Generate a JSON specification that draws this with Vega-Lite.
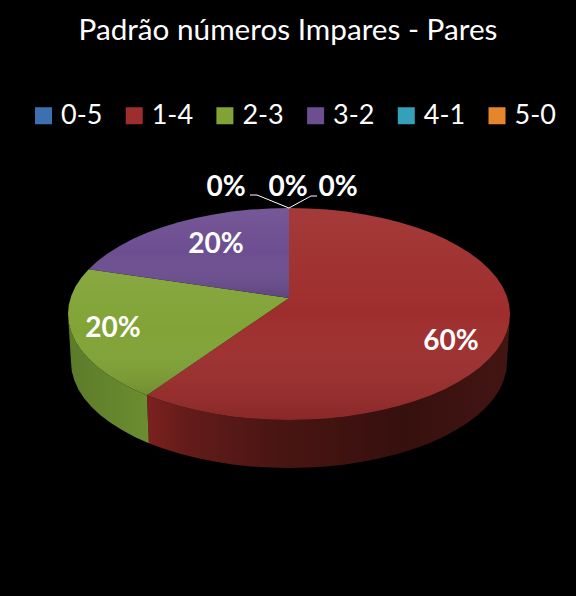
{"$schema":"https://vega.github.io/schema/vega-lite/v6.json","width":576,"height":596,"padding":0,"autosize":{"type":"none"},"background":"#000000","config":{"view":{"stroke":null}},
"title":{"text":"Padrão números Impares - Pares","font":"Lato","fontSize":29.7,"fontWeight":"normal","color":"#ffffff","anchor":"middle","frame":"group","offset":0,"dy":46.5},
"datasets":{
"top":[
{"serie":"1-4","ord":0,"x":289,"y":298},{"serie":"1-4","ord":1,"x":289,"y":208},{"serie":"1-4","ord":2,"x":308.3,"y":208.4},{"serie":"1-4","ord":3,"x":327.4,"y":209.6},{"serie":"1-4","ord":4,"x":346.2,"y":211.6},{"serie":"1-4","ord":5,"x":364.6,"y":214.4},{"serie":"1-4","ord":6,"x":382.4,"y":217.9},{"serie":"1-4","ord":7,"x":399.5,"y":222.2},{"serie":"1-4","ord":8,"x":415.8,"y":227.2},{"serie":"1-4","ord":9,"x":431.1,"y":232.8},{"serie":"1-4","ord":10,"x":445.3,"y":239},{"serie":"1-4","ord":11,"x":458.3,"y":245.9},{"serie":"1-4","ord":12,"x":470,"y":253.2},{"serie":"1-4","ord":13,"x":480.4,"y":261},{"serie":"1-4","ord":14,"x":489.3,"y":269.2},{"serie":"1-4","ord":15,"x":496.7,"y":277.7},{"serie":"1-4","ord":16,"x":502.5,"y":286.6},{"serie":"1-4","ord":17,"x":506.6,"y":295.6},{"serie":"1-4","ord":18,"x":509.2,"y":304.8},{"serie":"1-4","ord":19,"x":510,"y":314},{"serie":"1-4","ord":20,"x":509.2,"y":323.2},{"serie":"1-4","ord":21,"x":506.6,"y":332.4},{"serie":"1-4","ord":22,"x":502.5,"y":341.4},{"serie":"1-4","ord":23,"x":496.7,"y":350.3},{"serie":"1-4","ord":24,"x":489.3,"y":358.8},{"serie":"1-4","ord":25,"x":480.4,"y":367},{"serie":"1-4","ord":26,"x":470,"y":374.8},{"serie":"1-4","ord":27,"x":458.3,"y":382.1},{"serie":"1-4","ord":28,"x":445.3,"y":389},{"serie":"1-4","ord":29,"x":431.1,"y":395.2},{"serie":"1-4","ord":30,"x":415.8,"y":400.8},{"serie":"1-4","ord":31,"x":399.5,"y":405.8},{"serie":"1-4","ord":32,"x":382.4,"y":410.1},{"serie":"1-4","ord":33,"x":364.6,"y":413.6},{"serie":"1-4","ord":34,"x":346.2,"y":416.4},{"serie":"1-4","ord":35,"x":327.4,"y":418.4},{"serie":"1-4","ord":36,"x":308.3,"y":419.6},{"serie":"1-4","ord":37,"x":289,"y":420},{"serie":"1-4","ord":38,"x":269.7,"y":419.6},{"serie":"1-4","ord":39,"x":250.6,"y":418.4},{"serie":"1-4","ord":40,"x":231.8,"y":416.4},{"serie":"1-4","ord":41,"x":213.4,"y":413.6},{"serie":"1-4","ord":42,"x":195.6,"y":410.1},{"serie":"1-4","ord":43,"x":178.5,"y":405.8},{"serie":"1-4","ord":44,"x":162.2,"y":400.8},{"serie":"1-4","ord":45,"x":146.9,"y":395.2},
{"serie":"2-3","ord":0,"x":289,"y":298},{"serie":"2-3","ord":1,"x":146.9,"y":395.2},{"serie":"2-3","ord":2,"x":132.7,"y":389},{"serie":"2-3","ord":3,"x":119.7,"y":382.1},{"serie":"2-3","ord":4,"x":108,"y":374.8},{"serie":"2-3","ord":5,"x":97.6,"y":367},{"serie":"2-3","ord":6,"x":88.7,"y":358.8},{"serie":"2-3","ord":7,"x":81.3,"y":350.3},{"serie":"2-3","ord":8,"x":75.5,"y":341.4},{"serie":"2-3","ord":9,"x":71.4,"y":332.4},{"serie":"2-3","ord":10,"x":68.8,"y":323.2},{"serie":"2-3","ord":11,"x":68,"y":314},{"serie":"2-3","ord":12,"x":68.8,"y":304.8},{"serie":"2-3","ord":13,"x":71.4,"y":295.6},{"serie":"2-3","ord":14,"x":75.5,"y":286.6},{"serie":"2-3","ord":15,"x":81.3,"y":277.7},{"serie":"2-3","ord":16,"x":88.7,"y":269.2},
{"serie":"3-2","ord":0,"x":289,"y":298},{"serie":"3-2","ord":1,"x":88.7,"y":269.2},{"serie":"3-2","ord":2,"x":97.6,"y":261},{"serie":"3-2","ord":3,"x":108,"y":253.2},{"serie":"3-2","ord":4,"x":119.7,"y":245.9},{"serie":"3-2","ord":5,"x":132.7,"y":239},{"serie":"3-2","ord":6,"x":146.9,"y":232.8},{"serie":"3-2","ord":7,"x":162.2,"y":227.2},{"serie":"3-2","ord":8,"x":178.5,"y":222.2},{"serie":"3-2","ord":9,"x":195.6,"y":217.9},{"serie":"3-2","ord":10,"x":213.4,"y":214.4},{"serie":"3-2","ord":11,"x":231.8,"y":211.6},{"serie":"3-2","ord":12,"x":250.6,"y":209.6},{"serie":"3-2","ord":13,"x":269.7,"y":208.4},{"serie":"3-2","ord":14,"x":289,"y":208}],
"sideRed":[
{"ord":0,"x":510,"y":314},{"ord":1,"x":509.2,"y":323.2},{"ord":2,"x":506.6,"y":332.4},{"ord":3,"x":502.5,"y":341.4},{"ord":4,"x":496.7,"y":350.3},{"ord":5,"x":489.3,"y":358.8},{"ord":6,"x":480.4,"y":367},{"ord":7,"x":470,"y":374.8},{"ord":8,"x":458.3,"y":382.1},{"ord":9,"x":445.3,"y":389},{"ord":10,"x":431.1,"y":395.2},{"ord":11,"x":415.8,"y":400.8},{"ord":12,"x":399.5,"y":405.8},{"ord":13,"x":382.4,"y":410.1},{"ord":14,"x":364.6,"y":413.6},{"ord":15,"x":346.2,"y":416.4},{"ord":16,"x":327.4,"y":418.4},{"ord":17,"x":308.3,"y":419.6},{"ord":18,"x":289,"y":420},{"ord":19,"x":269.7,"y":419.6},{"ord":20,"x":250.6,"y":418.4},{"ord":21,"x":231.8,"y":416.4},{"ord":22,"x":213.4,"y":413.6},{"ord":23,"x":195.6,"y":410.1},{"ord":24,"x":178.5,"y":405.8},{"ord":25,"x":162.2,"y":400.8},{"ord":26,"x":146.9,"y":395.2},
{"ord":27,"x":148.8,"y":443.2},{"ord":28,"x":163.9,"y":448.8},{"ord":29,"x":180,"y":453.8},{"ord":30,"x":196.9,"y":458.1},{"ord":31,"x":214.4,"y":461.6},{"ord":32,"x":232.6,"y":464.4},{"ord":33,"x":251.1,"y":466.4},{"ord":34,"x":270,"y":467.6},{"ord":35,"x":289,"y":468},{"ord":36,"x":308,"y":467.6},{"ord":37,"x":326.9,"y":466.4},{"ord":38,"x":345.4,"y":464.4},{"ord":39,"x":363.6,"y":461.6},{"ord":40,"x":381.1,"y":458.1},{"ord":41,"x":398,"y":453.8},{"ord":42,"x":414.1,"y":448.8},{"ord":43,"x":429.2,"y":443.2},{"ord":44,"x":443.2,"y":437},{"ord":45,"x":456,"y":430.1},{"ord":46,"x":467.5,"y":422.8},{"ord":47,"x":477.8,"y":415},{"ord":48,"x":486.6,"y":406.8},{"ord":49,"x":493.9,"y":398.3},{"ord":50,"x":499.6,"y":389.4},{"ord":51,"x":503.6,"y":380.4},{"ord":52,"x":506.2,"y":371.2},{"ord":53,"x":507,"y":362}],
"sideGreen":[
{"ord":0,"x":146.9,"y":395.2},{"ord":1,"x":132.7,"y":389},{"ord":2,"x":119.7,"y":382.1},{"ord":3,"x":108,"y":374.8},{"ord":4,"x":97.6,"y":367},{"ord":5,"x":88.7,"y":358.8},{"ord":6,"x":81.3,"y":350.3},{"ord":7,"x":75.5,"y":341.4},{"ord":8,"x":71.4,"y":332.4},{"ord":9,"x":68.8,"y":323.2},{"ord":10,"x":68,"y":314},
{"ord":11,"x":71,"y":362},{"ord":12,"x":71.8,"y":371.2},{"ord":13,"x":74.4,"y":380.4},{"ord":14,"x":78.4,"y":389.4},{"ord":15,"x":84.1,"y":398.3},{"ord":16,"x":91.4,"y":406.8},{"ord":17,"x":100.2,"y":415},{"ord":18,"x":110.5,"y":422.8},{"ord":19,"x":122,"y":430.1},{"ord":20,"x":134.8,"y":437},{"ord":21,"x":148.8,"y":443.2}],
"labels":[{"label":"60%","x":451,"y":340},{"label":"20%","x":216,"y":243},{"label":"20%","x":113,"y":327},{"label":"0%","x":226,"y":186},{"label":"0%","x":288,"y":186},{"label":"0%","x":338,"y":186}],
"leaders":[{"leader":"a","ord":0,"x":250,"y":195},{"leader":"a","ord":1,"x":257,"y":195},{"leader":"a","ord":2,"x":289,"y":208},{"leader":"b","ord":0,"x":317,"y":196},{"leader":"b","ord":1,"x":311,"y":196},{"leader":"b","ord":2,"x":289,"y":208}]
},
"encoding":{"x":{"field":"x","type":"quantitative","axis":null,"scale":{"domain":[0,576],"nice":false,"zero":false}},"y":{"field":"y","type":"quantitative","axis":null,"scale":{"domain":[596,0],"nice":false,"zero":false}}},
"layer":[
{"data":{"name":"sideRed"},"mark":{"type":"line","filled":true,"strokeWidth":0,"fill":{"gradient":"linear","x1":0,"y1":0,"x2":1,"y2":0,"stops":[{"offset":0,"color":"#7d211f"},{"offset":0.1,"color":"#651c1a"},{"offset":0.35,"color":"#4a1513"},{"offset":0.7,"color":"#36100e"},{"offset":1,"color":"#431513"}]}},"encoding":{"order":{"field":"ord"}}},
{"data":{"name":"sideGreen"},"mark":{"type":"line","filled":true,"strokeWidth":0,"fill":{"gradient":"linear","x1":0,"y1":0,"x2":1,"y2":0,"stops":[{"offset":0,"color":"#5c7b2a"},{"offset":1,"color":"#6c8d30"}]}},"encoding":{"order":{"field":"ord"}}},
{"data":{"name":"top"},"mark":{"type":"line","filled":true,"strokeWidth":0},"encoding":{"order":{"field":"ord"},
"color":{"field":"serie","type":"nominal","scale":{"domain":["0-5","1-4","2-3","3-2","4-1","5-0"],"range":["#3d70b0","#9e2e2d","#81a336","#6d4e91","#35a0ba","#e5862c"]},
"legend":{"orient":"none","legendX":30,"legendY":102,"direction":"horizontal","columns":6,"title":null,"symbolType":"square","symbolSize":289,"symbolStrokeWidth":0,"labelColor":"#ffffff","labelFont":"Lato","labelFontSize":27,"labelLimit":80,"labelOffset":4,"columnPadding":17.7,
"encode":{"symbols":{"update":{"fill":{"signal":"{gradient:'linear',x1:0,y1:0,x2:0,y2:1,stops:[{offset:0,color:['#6b9bd8','#c8524f','#a6c552','#8f6db5','#5cc3db','#f6a85a'][indexof(domain('color'),datum.value)]},{offset:0.3,color:scale('color',datum.value)},{offset:1,color:scale('color',datum.value)}]}"}}}}}}}},
{"data":{"name":"top"},"mark":{"type":"line","filled":true,"strokeWidth":0,"fill":{"gradient":"linear","x1":0,"y1":0,"x2":0,"y2":1,"stops":[{"offset":0,"color":"rgba(255,255,255,0.06)"},{"offset":0.5,"color":"rgba(255,255,255,0)"},{"offset":1,"color":"rgba(0,0,0,0.13)"}]}},"encoding":{"order":{"field":"ord"},"detail":{"field":"serie"}}},
{"data":{"name":"leaders"},"mark":{"type":"line","color":"#ffffff","strokeWidth":1},"encoding":{"order":{"field":"ord"},"detail":{"field":"leader"}}},
{"data":{"name":"labels"},"mark":{"type":"text","font":"Lato","fontWeight":"bold","fontSize":28,"dy":2,"color":"#ffffff","align":"center","baseline":"middle"},"encoding":{"text":{"field":"label"}}}
]}
